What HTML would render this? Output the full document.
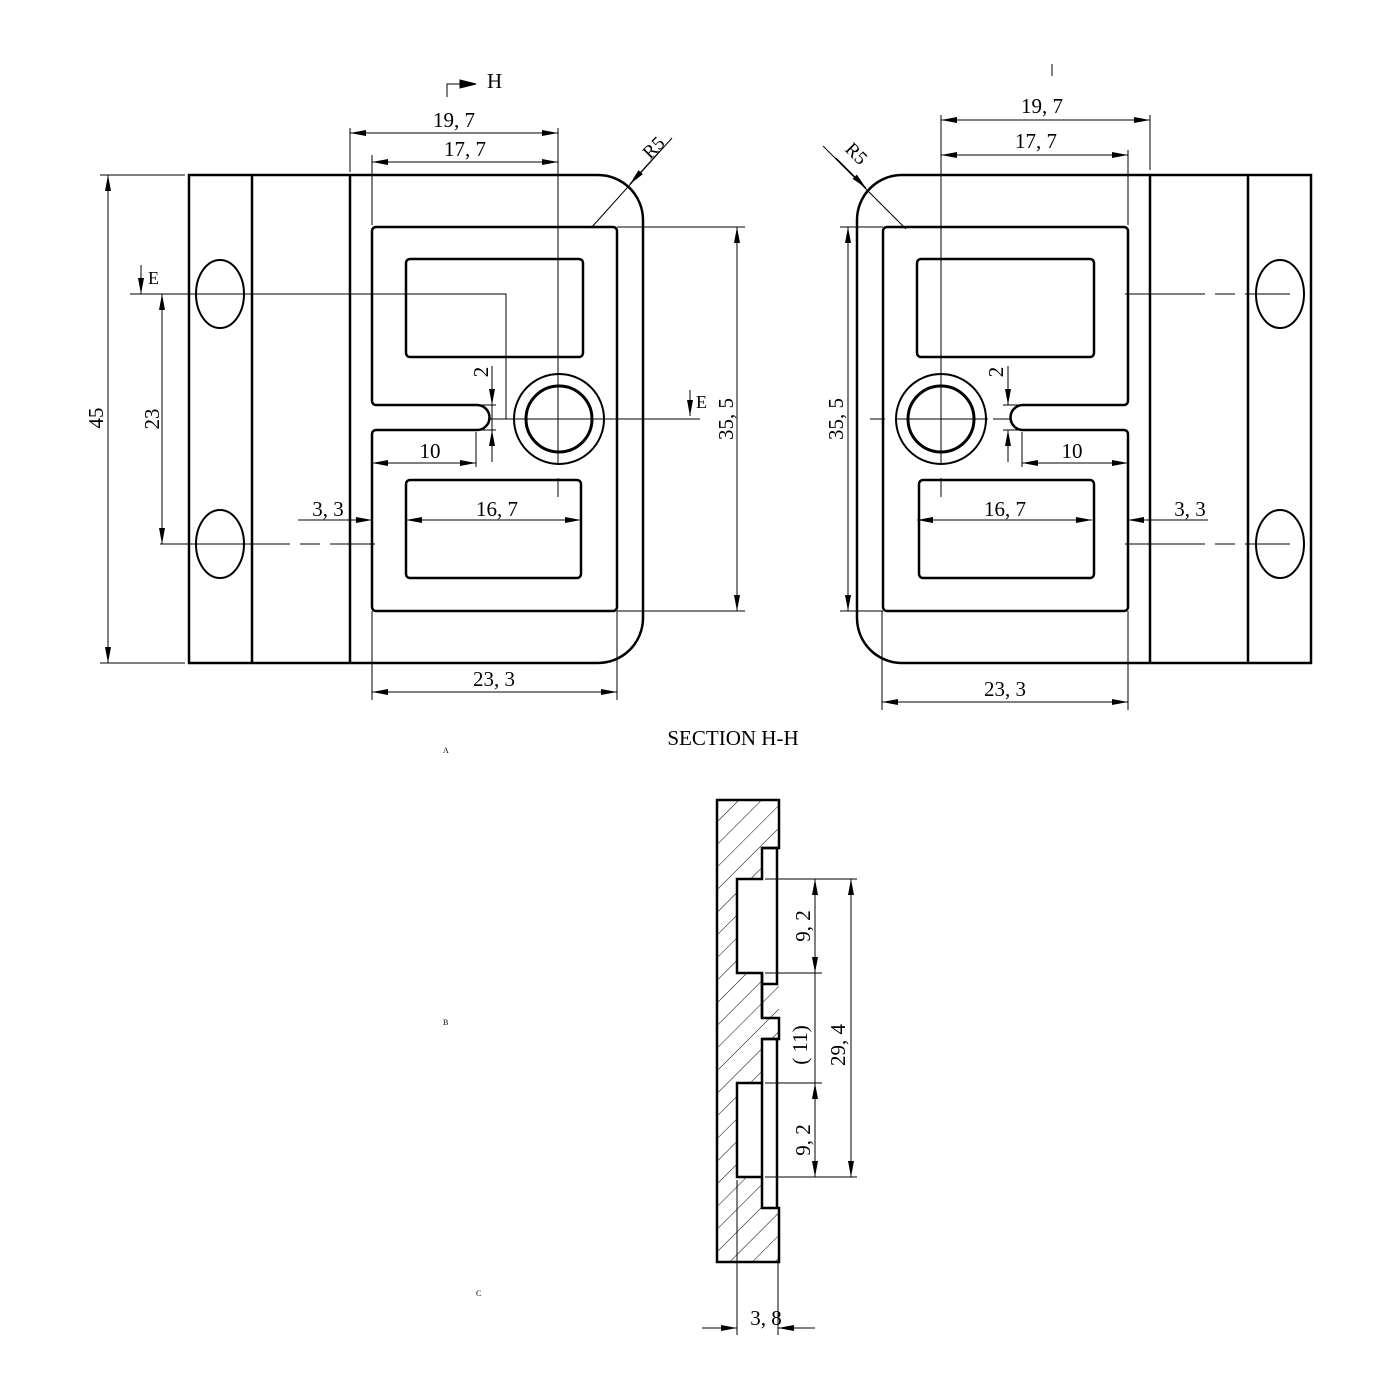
<!DOCTYPE html>
<html><head><meta charset="utf-8"><style>
html,body{margin:0;padding:0;background:#fff;}
svg{display:block;}
text{font-family:"Liberation Serif","Noto Serif CJK SC",serif;fill:#000;}
</style></head><body>
<svg width="1400" height="1400" viewBox="0 0 1400 1400" xmlns="http://www.w3.org/2000/svg">
<defs>
<marker id="a" viewBox="0 0 16 6" refX="16" refY="3" markerWidth="16" markerHeight="6" markerUnits="userSpaceOnUse" orient="auto-start-reverse"><path d="M0,0 L16,3 L0,6 Z" fill="#000"/></marker>
<pattern id="h" width="16" height="16" patternUnits="userSpaceOnUse" patternTransform="rotate(45)"><line x1="0" y1="0" x2="0" y2="16" stroke="#000" stroke-width="1"/></pattern>
<g id="part">
 <path d="M189,175 H598 A45,45 0 0 1 643,220 V618 A45,45 0 0 1 598,663 H189 Z" fill="none" stroke="#000" stroke-width="2.5"/>
 <line x1="252" y1="175" x2="252" y2="663" stroke="#000" stroke-width="2.5"/>
 <line x1="350" y1="175" x2="350" y2="663" stroke="#000" stroke-width="2.5"/>
 <path d="M376,227 H613 A4,4 0 0 1 617,231 V607 A4,4 0 0 1 613,611 H376 A4,4 0 0 1 372,607 V434 A4,4 0 0 1 376,430 H477 A12.5,12.5 0 0 0 477,405 H376 A4,4 0 0 1 372,401 V231 A4,4 0 0 1 376,227 Z" fill="none" stroke="#000" stroke-width="2.5"/>
 <rect x="406" y="259" width="177" height="98" rx="4" fill="none" stroke="#000" stroke-width="2.5"/>
 <rect x="406" y="480" width="175" height="98" rx="4" fill="none" stroke="#000" stroke-width="2.5"/>
 <circle cx="559" cy="419" r="45" fill="none" stroke="#000" stroke-width="2"/>
 <circle cx="559" cy="419" r="33" fill="none" stroke="#000" stroke-width="3"/>
 <ellipse cx="220" cy="294" rx="24" ry="34" fill="none" stroke="#000" stroke-width="2"/>
 <ellipse cx="220" cy="544" rx="24" ry="34" fill="none" stroke="#000" stroke-width="2"/>
</g>
</defs>
<g stroke="#000" stroke-width="1" fill="none">
<!-- LEFT VIEW -->
<use href="#part"/>
<!-- 45 -->
<line x1="100" y1="175" x2="185" y2="175"/><line x1="100" y1="663" x2="185" y2="663"/>
<line x1="108" y1="175" x2="108" y2="663" marker-start="url(#a)" marker-end="url(#a)"/>
<!-- 23 -->
<line x1="162" y1="294" x2="162" y2="544" marker-start="url(#a)" marker-end="url(#a)"/>
<line x1="160" y1="544" x2="375" y2="544" stroke-dasharray="130,10,20,10,200"/>
<!-- E line -->
<polyline points="130,294 506,294 506,419"/>
<line x1="488" y1="419" x2="700" y2="419"/>
<line x1="141" y1="265" x2="141" y2="294" marker-end="url(#a)"/>
<line x1="690" y1="390" x2="690" y2="416" marker-end="url(#a)"/>
<!-- 19,7 17,7 -->
<line x1="350" y1="128" x2="350" y2="172"/>
<line x1="558" y1="128" x2="558" y2="465"/>
<line x1="558" y1="478" x2="558" y2="497"/>
<line x1="350" y1="133" x2="558" y2="133" marker-start="url(#a)" marker-end="url(#a)"/>
<line x1="372" y1="155" x2="372" y2="225"/>
<line x1="372" y1="162" x2="558" y2="162" marker-start="url(#a)" marker-end="url(#a)"/>
<!-- 35,5 -->
<line x1="617" y1="227" x2="745" y2="227"/><line x1="617" y1="611" x2="745" y2="611"/>
<line x1="737" y1="227" x2="737" y2="611" marker-start="url(#a)" marker-end="url(#a)"/>
<!-- 23,3 -->
<line x1="372" y1="611" x2="372" y2="700"/><line x1="617" y1="611" x2="617" y2="700"/>
<line x1="372" y1="692" x2="617" y2="692" marker-start="url(#a)" marker-end="url(#a)"/>
<!-- R5 -->
<line x1="591" y1="228" x2="672" y2="138"/>
<line x1="660" y1="151" x2="630" y2="184" marker-end="url(#a)"/>
<!-- 2 -->
<line x1="478" y1="405" x2="496" y2="405"/><line x1="478" y1="430" x2="496" y2="430"/>
<line x1="492" y1="366" x2="492" y2="405" marker-end="url(#a)"/>
<line x1="492" y1="462" x2="492" y2="430" marker-end="url(#a)"/>
<line x1="492" y1="405" x2="492" y2="430"/>
<!-- 10 -->
<line x1="476" y1="432" x2="476" y2="467"/>
<line x1="372" y1="463" x2="476" y2="463" marker-start="url(#a)" marker-end="url(#a)"/>
<!-- 3,3 / 16,7 -->
<line x1="298" y1="520" x2="372" y2="520" marker-end="url(#a)"/>
<line x1="406" y1="520" x2="581" y2="520" marker-start="url(#a)" marker-end="url(#a)"/>
<!-- H marker -->
<polyline points="447,97 447,84 470,84"/>
<path d="M460,80 L476,84 L460,88 Z" fill="#000"/>

<!-- RIGHT VIEW -->
<use href="#part" transform="translate(1500,0) scale(-1,1)"/>
<line x1="1150" y1="115" x2="1150" y2="170"/>
<line x1="941" y1="115" x2="941" y2="465"/>
<line x1="941" y1="478" x2="941" y2="497"/>
<line x1="941" y1="120" x2="1150" y2="120" marker-start="url(#a)" marker-end="url(#a)"/>
<line x1="1128" y1="150" x2="1128" y2="225"/>
<line x1="941" y1="155" x2="1128" y2="155" marker-start="url(#a)" marker-end="url(#a)"/>
<line x1="840" y1="227" x2="883" y2="227"/><line x1="840" y1="611" x2="883" y2="611"/>
<line x1="848" y1="227" x2="848" y2="611" marker-start="url(#a)" marker-end="url(#a)"/>
<line x1="882" y1="611" x2="882" y2="710"/><line x1="1128" y1="611" x2="1128" y2="710"/>
<line x1="882" y1="702" x2="1128" y2="702" marker-start="url(#a)" marker-end="url(#a)"/>
<line x1="823" y1="146" x2="906" y2="229"/>
<line x1="836" y1="158" x2="866" y2="188" marker-end="url(#a)"/>
<line x1="870" y1="419" x2="885" y2="419"/>
<line x1="895" y1="419" x2="988" y2="419"/>
<line x1="993" y1="419" x2="1012" y2="419"/>
<line x1="1003" y1="405" x2="1022" y2="405"/><line x1="1003" y1="430" x2="1022" y2="430"/>
<line x1="1008" y1="366" x2="1008" y2="405" marker-end="url(#a)"/>
<line x1="1008" y1="462" x2="1008" y2="430" marker-end="url(#a)"/>
<line x1="1022" y1="432" x2="1022" y2="467"/>
<line x1="1022" y1="463" x2="1128" y2="463" marker-start="url(#a)" marker-end="url(#a)"/>
<line x1="1208" y1="520" x2="1128" y2="520" marker-end="url(#a)"/>
<line x1="917" y1="520" x2="1092" y2="520" marker-start="url(#a)" marker-end="url(#a)"/>
<line x1="1125" y1="294" x2="1290" y2="294" stroke-dasharray="80,10,20,10,200"/>
<line x1="1125" y1="544" x2="1290" y2="544" stroke-dasharray="80,10,20,10,200"/>
<line x1="1052" y1="64" x2="1052" y2="76"/>

<!-- SECTION -->
<rect x="717" y="800" width="62" height="462" fill="url(#h)" stroke="none"/>
<rect x="762" y="848" width="17" height="136" fill="#fff" stroke="none"/>
<rect x="762" y="1039" width="17" height="169" fill="#fff" stroke="none"/>
<rect x="737" y="879" width="25" height="94" fill="#fff" stroke="none"/>
<rect x="737" y="1083" width="25" height="94" fill="#fff" stroke="none"/>
<g stroke-width="2.5">
<path d="M717,800 H779 V848 H762 V879 H737 V973 H762 V1018 H779 V1039 H762 V1083 H737 V1177 H762 V1208 H779 V1262 H717 Z"/>
<polyline points="762,848 777,848 777,984 762,984"/>
<polyline points="762,1039 777,1039 777,1208"/>
<line x1="762" y1="973" x2="762" y2="1018"/>
<line x1="762" y1="1083" x2="762" y2="1177"/>
</g>
<line x1="765" y1="879" x2="857" y2="879"/><line x1="765" y1="973" x2="822" y2="973"/>
<line x1="765" y1="1083" x2="822" y2="1083"/><line x1="765" y1="1177" x2="857" y2="1177"/>
<line x1="815" y1="879" x2="815" y2="973" marker-start="url(#a)" marker-end="url(#a)"/>
<line x1="815" y1="973" x2="815" y2="1083"/>
<line x1="815" y1="1083" x2="815" y2="1177" marker-start="url(#a)" marker-end="url(#a)"/>
<line x1="851" y1="879" x2="851" y2="1177" marker-start="url(#a)" marker-end="url(#a)"/>
<line x1="737" y1="1180" x2="737" y2="1335"/><line x1="778" y1="1262" x2="778" y2="1335"/>
<line x1="702" y1="1328" x2="737" y2="1328" marker-end="url(#a)"/>
<line x1="815" y1="1328" x2="778" y2="1328" marker-end="url(#a)"/>
</g>

<g font-size="21">
<text x="487" y="88">H</text>
<text x="148" y="284" font-size="18">E</text>
<text x="696" y="408" font-size="18">E</text>
<text x="454" y="127" text-anchor="middle">19, 7</text>
<text x="465" y="156" text-anchor="middle">17, 7</text>
<text x="494" y="686" text-anchor="middle">23, 3</text>
<text x="430" y="458" text-anchor="middle">10</text>
<text x="328" y="516" text-anchor="middle">3, 3</text>
<text x="497" y="516" text-anchor="middle">16, 7</text>
<text transform="translate(103,418) rotate(-90)" text-anchor="middle">45</text>
<text transform="translate(159,419) rotate(-90)" text-anchor="middle">23</text>
<text transform="translate(733,419) rotate(-90)" text-anchor="middle">35, 5</text>
<text transform="translate(488,372) rotate(-90)" text-anchor="middle">2</text>
<text transform="translate(658,152) rotate(-45)" text-anchor="middle" font-size="19">R5</text>
<text x="1042" y="113" text-anchor="middle">19, 7</text>
<text x="1036" y="148" text-anchor="middle">17, 7</text>
<text x="1005" y="696" text-anchor="middle">23, 3</text>
<text x="1072" y="458" text-anchor="middle">10</text>
<text x="1190" y="516" text-anchor="middle">3, 3</text>
<text x="1005" y="516" text-anchor="middle">16, 7</text>
<text transform="translate(843,419) rotate(-90)" text-anchor="middle">35, 5</text>
<text transform="translate(1003,372) rotate(-90)" text-anchor="middle">2</text>
<text transform="translate(852,158) rotate(45)" text-anchor="middle" font-size="19">R5</text>
<text x="733" y="745" text-anchor="middle">SECTION H-H</text>
<text transform="translate(810,926) rotate(-90)" text-anchor="middle">9, 2</text>
<text transform="translate(810,1140) rotate(-90)" text-anchor="middle">9, 2</text>
<text transform="translate(807,1045) rotate(-90)" text-anchor="middle">( 11)</text>
<text transform="translate(845,1045) rotate(-90)" text-anchor="middle">29, 4</text>
<text x="766" y="1325" text-anchor="middle">3, 8</text>
</g>
<g font-size="8">
<text x="443" y="753">A</text>
<text x="443" y="1025">B</text>
<text x="476" y="1296">C</text>
</g>
</svg>
</body></html>
